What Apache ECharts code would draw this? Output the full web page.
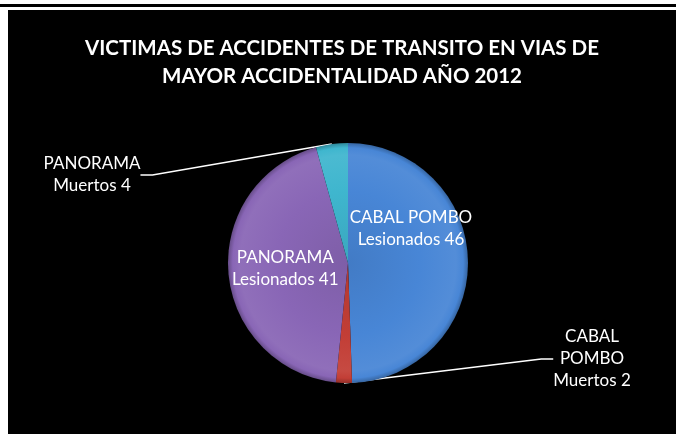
<!DOCTYPE html>
<html>
<head>
<meta charset="utf-8">
<script src="https://cdn.jsdelivr.net/npm/echarts@6/dist/echarts.min.js"></script>
<style>
html,body{margin:0;padding:0;background:#fff;width:676px;height:434px;overflow:hidden;}
#topline{position:absolute;left:0;top:4px;width:676px;height:3px;background:#000;}
#chart{position:absolute;left:8px;top:10px;width:668px;height:424px;background:#000;}
</style>
</head>
<body>
<div id="topline"></div>
<div id="chart"></div>
<script>
var titleText = 'VICTIMAS DE ACCIDENTES DE TRANSITO EN VIAS DE\nMAYOR ACCIDENTALIDAD AÑO 2012';
var places = ['CABAL POMBO', 'CABAL POMBO', 'PANORAMA', 'PANORAMA'];
var kinds = ['Lesionados', 'Muertos', 'Lesionados', 'Muertos'];
var values = [46, 2, 41, 4];
var colors = ['#4886D6', '#C23E36', '#8966B6', '#3FB6CE'];

var pieCenter = [340, 253];
var pieRadius = 120;

function shade(hex, f) {
  var n = parseInt(hex.slice(1), 16);
  var r = (n >> 16) & 255, g = (n >> 8) & 255, b = n & 255;
  function c(v) { v = f > 0 ? v + (255 - v) * f : v * (1 + f); return Math.max(0, Math.min(255, Math.round(v))); }
  return 'rgb(' + c(r) + ',' + c(g) + ',' + c(b) + ')';
}

var outside = [false, true, false, true];
var data = values.map(function (v, i) {
  var item = {
    name: places[i] + ' ' + kinds[i],
    value: v,
    itemStyle: {
      color: {
        type: 'radial', x: pieCenter[0], y: pieCenter[1], r: pieRadius, global: true,
        colorStops: [
          { offset: 0, color: shade(colors[i], -0.08) },
          { offset: 0.6, color: colors[i] },
          { offset: 0.9, color: shade(colors[i], 0.06) },
          { offset: 0.96, color: colors[i] },
          { offset: 1, color: shade(colors[i], -0.25) }
        ]
      }
    }
  };
  if (outside[i]) {
    item.label = { position: 'outside', color: '#fff' };
    item.labelLine = { show: true, length: 20, length2: 12, lineStyle: { color: '#fff', width: 1.5 } };
  } else {
    item.label = { position: 'inside', color: '#fff' };
    item.labelLine = { show: false };
  }
  return item;
});

var chart = echarts.init(document.getElementById('chart'));
chart.setOption({
  backgroundColor: '#000',
  animation: false,
  title: {
    text: titleText,
    left: 'center',
    top: 19,
    textStyle: { color: '#fff', fontFamily: 'Lato', fontWeight: 'bold', fontSize: 20.5, lineHeight: 28 }
  },
  series: [{
    type: 'pie',
    center: pieCenter,
    radius: pieRadius,
    startAngle: 90,
    clockwise: true,
    data: data,
    label: {
      show: true,
      fontFamily: 'Lato',
      fontSize: 17,
      lineHeight: 22,
      align: 'center',
      formatter: function (p) {
        var i = p.dataIndex;
        if (i === 1) return places[i].replace(' ', '\n') + '\n' + kinds[i] + ' ' + values[i];
        return places[i] + '\n' + kinds[i] + ' ' + values[i];
      }
    },
    labelLayout: function (p) {
      if (p.dataIndex === 0) return { dy: -33 };
      if (p.dataIndex === 1) return { x: 584, y: 349, align: 'center', verticalAlign: 'middle' };
      if (p.dataIndex === 3) return { x: 84, y: 165, align: 'center', verticalAlign: 'middle' };
      return {};
    }
  }]
});
</script>
</body>
</html>
